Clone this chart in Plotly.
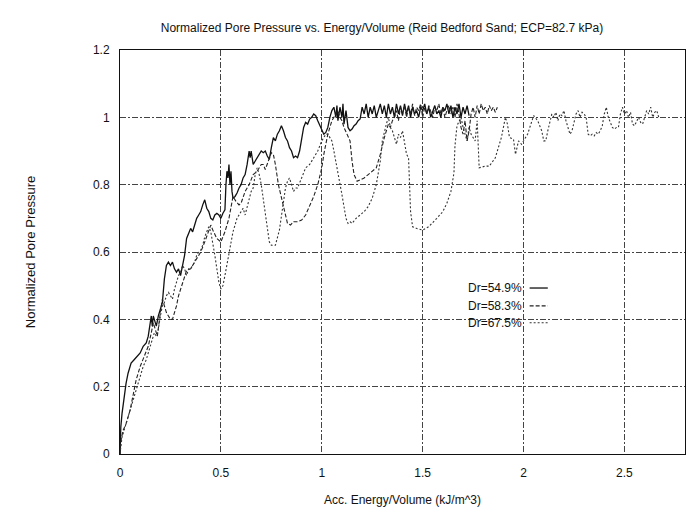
import plotly.graph_objects as go

series_names = ["Dr=54.9%", "Dr=58.3%", "Dr=67.5%"]

# Dr=54.9% (solid)
x_a = [0, 0.004, 0.01, 0.02, 0.03, 0.04, 0.055, 0.07, 0.085, 0.1, 0.115, 0.13, 0.14, 0.15, 0.155, 0.16, 0.165, 0.17, 0.18, 0.19,
       0.2, 0.21, 0.22, 0.23, 0.24, 0.25, 0.26, 0.27, 0.28, 0.29, 0.3, 0.31, 0.32, 0.33, 0.34, 0.35, 0.36, 0.37, 0.38, 0.39,
       0.4, 0.41, 0.42, 0.43, 0.44, 0.45, 0.46, 0.47, 0.48, 0.49, 0.5, 0.51, 0.52,
       0.525, 0.53, 0.535, 0.54, 0.545, 0.55, 0.555, 0.56, 0.57, 0.58, 0.59, 0.6, 0.61, 0.62, 0.63, 0.64, 0.645, 0.65, 0.66, 0.67,
       0.68, 0.69, 0.7, 0.71, 0.72, 0.73, 0.74, 0.75, 0.76, 0.77, 0.78, 0.79, 0.8, 0.81, 0.82, 0.83, 0.84, 0.85, 0.86, 0.87,
       0.88, 0.89, 0.9, 0.91, 0.92, 0.93, 0.94, 0.95, 0.96, 0.97, 0.98, 0.99, 1.0, 1.01, 1.02, 1.03, 1.04, 1.05,
       1.06, 1.07, 1.075, 1.08, 1.09, 1.1, 1.105, 1.11, 1.12, 1.13, 1.14, 1.15, 1.16, 1.17, 1.18, 1.19, 1.2, 1.21, 1.22, 1.23,
       1.24, 1.25, 1.26, 1.27, 1.28, 1.29, 1.3, 1.31, 1.32, 1.33, 1.34, 1.35, 1.36, 1.37, 1.38, 1.39, 1.4, 1.41, 1.42, 1.43,
       1.44, 1.45, 1.46, 1.47, 1.48, 1.49, 1.5, 1.51, 1.52, 1.53, 1.54, 1.55, 1.56, 1.57, 1.58, 1.59, 1.6, 1.61, 1.62, 1.63,
       1.64, 1.65, 1.66, 1.67, 1.68, 1.69, 1.7, 1.71, 1.72, 1.73]
y_a = [0, 0.08, 0.12, 0.17, 0.21, 0.24, 0.27, 0.28, 0.29, 0.30, 0.32, 0.33, 0.35, 0.39, 0.41, 0.38, 0.41, 0.40, 0.38, 0.41,
       0.43, 0.45, 0.52, 0.56, 0.57, 0.56, 0.57, 0.55, 0.54, 0.55, 0.53, 0.56, 0.59, 0.64, 0.655, 0.67, 0.66, 0.68, 0.70, 0.71,
       0.72, 0.74, 0.755, 0.73, 0.72, 0.70, 0.695, 0.71, 0.715, 0.71, 0.70, 0.715, 0.725,
       0.80, 0.84, 0.82, 0.86, 0.80, 0.84, 0.78, 0.76, 0.765, 0.775, 0.79, 0.80, 0.82, 0.83, 0.86, 0.90, 0.88, 0.90, 0.86, 0.87,
       0.88, 0.89, 0.90, 0.895, 0.90, 0.885, 0.875, 0.91, 0.94, 0.93, 0.95, 0.96, 0.975, 0.96, 0.94, 0.93, 0.91, 0.90, 0.88, 0.885,
       0.88, 0.90, 0.93, 0.97, 0.985, 0.98, 0.995, 1.00, 1.01, 1.005, 0.99, 0.975, 0.96, 0.95, 0.955, 0.97, 1.0, 1.02,
       1.03, 1.00, 1.035, 0.99, 1.03, 1.00, 1.04, 0.98, 1.02, 0.97, 0.96, 0.965, 0.975, 0.98, 0.99, 0.995, 1.03, 1.01, 1.04, 1.0,
       1.03, 1.01, 1.035, 1.0, 1.02, 1.04, 1.01, 1.035, 1.0, 1.04, 1.01, 1.03, 1.00, 1.04, 1.01, 1.035, 1.005, 1.04, 1.01, 1.035,
       1.0, 1.03, 1.01, 1.02, 1.0, 1.03, 1.02, 1.04, 1.01, 1.03, 1.0, 1.02, 1.035, 1.01, 1.02, 1.0, 1.03, 1.02, 1.04, 1.01,
       1.035, 1.0, 1.03, 1.01, 1.04, 1.0, 1.03, 1.01, 1.035, 1.005]

# Dr=58.3% (dashed)
x_b = [0, 0.005, 0.015, 0.03, 0.05, 0.065, 0.08, 0.1, 0.12, 0.14, 0.155, 0.165, 0.175, 0.185, 0.2, 0.21, 0.22, 0.23, 0.24,
       0.25, 0.26, 0.27, 0.28, 0.29, 0.3, 0.31, 0.32, 0.33, 0.35, 0.38, 0.4, 0.42, 0.44, 0.45, 0.46, 0.48, 0.5, 0.52, 0.54,
       0.55, 0.56, 0.575, 0.59, 0.6, 0.62, 0.64, 0.66, 0.68, 0.7, 0.71, 0.72, 0.735, 0.75, 0.76, 0.77, 0.785, 0.8, 0.815,
       0.83, 0.845, 0.86, 0.88, 0.9, 0.92, 0.94, 0.96, 0.98, 1.0, 1.01, 1.03, 1.05, 1.07, 1.08, 1.09, 1.1, 1.11, 1.125, 1.14,
       1.15, 1.16, 1.175, 1.19, 1.21, 1.23, 1.25, 1.27, 1.29, 1.31, 1.33, 1.34, 1.35, 1.36,
       1.37, 1.38, 1.39, 1.4, 1.41, 1.42, 1.43, 1.44, 1.45, 1.46, 1.47, 1.48, 1.49, 1.5, 1.51, 1.52, 1.53, 1.54, 1.55, 1.56,
       1.57, 1.58, 1.59, 1.6, 1.61, 1.62, 1.63, 1.64, 1.65, 1.66, 1.67, 1.68, 1.69, 1.7, 1.71, 1.72, 1.73, 1.74, 1.75, 1.76,
       1.77, 1.78, 1.79, 1.8, 1.81, 1.82, 1.83, 1.84, 1.85, 1.86, 1.87]
y_b = [0, 0.04, 0.07, 0.09, 0.13, 0.18, 0.22, 0.26, 0.29, 0.32, 0.36, 0.39, 0.37, 0.35, 0.42, 0.46, 0.44, 0.42, 0.41,
       0.40, 0.40, 0.42, 0.44, 0.47, 0.49, 0.51, 0.53, 0.545, 0.55, 0.58, 0.60, 0.63, 0.665, 0.68, 0.665, 0.64, 0.63, 0.66, 0.70,
       0.73, 0.765, 0.75, 0.74, 0.745, 0.78, 0.80, 0.83, 0.84, 0.86, 0.86, 0.845, 0.87, 0.895, 0.89, 0.86, 0.80, 0.76, 0.72,
       0.685, 0.68, 0.69, 0.69, 0.695, 0.71, 0.735, 0.765, 0.80, 0.85, 0.89, 0.95, 0.99, 1.01, 1.02, 1.0, 0.99, 0.97, 0.95, 0.93,
       0.87, 0.83, 0.81, 0.815, 0.82, 0.83, 0.84, 0.85, 0.89, 0.94, 0.98, 0.97, 0.99, 1.0,
       1.02, 0.99, 1.03, 1.01, 1.035, 1.0, 1.03, 1.01, 1.04, 1.005, 1.03, 1.02, 1.04, 1.0, 1.03, 1.01, 1.035, 1.02, 1.0, 1.03,
       1.02, 1.04, 1.01, 1.03, 1.0, 1.02, 1.035, 1.01, 1.03, 1.0, 1.04, 1.01, 0.97, 0.95, 0.99, 0.93, 0.96, 1.01, 1.03, 1.0,
       1.035, 1.01, 1.04, 1.02, 1.03, 1.01, 1.035, 1.02, 1.03, 1.015, 1.03]

# Dr=67.5% (dotted)
x_c = [0, 0.01, 0.025, 0.04, 0.06, 0.08, 0.1, 0.115, 0.13, 0.145, 0.16, 0.17, 0.18, 0.19, 0.2, 0.21, 0.22, 0.23, 0.24, 0.25,
       0.26, 0.27, 0.28, 0.29, 0.3, 0.31, 0.32, 0.33, 0.34, 0.35, 0.36, 0.37, 0.38, 0.39, 0.4, 0.41, 0.42, 0.43, 0.44, 0.45,
       0.46, 0.47, 0.48, 0.49, 0.5, 0.51, 0.52, 0.53, 0.54, 0.55, 0.56, 0.58, 0.6, 0.61, 0.62, 0.635, 0.65, 0.66, 0.67, 0.68,
       0.69, 0.7, 0.71, 0.72, 0.73, 0.74, 0.75, 0.77, 0.79, 0.8, 0.81, 0.82, 0.83, 0.84, 0.85, 0.86, 0.87, 0.88, 0.9, 0.92,
       0.94, 0.96, 0.98, 1.0, 1.02, 1.03, 1.04, 1.05, 1.06, 1.07, 1.08, 1.09, 1.1, 1.11, 1.12, 1.13, 1.14, 1.15, 1.17, 1.19,
       1.21, 1.23, 1.25, 1.27, 1.28, 1.29, 1.3, 1.31, 1.32, 1.33, 1.34, 1.35, 1.36, 1.37, 1.38, 1.39, 1.4, 1.41, 1.42, 1.43,
       1.435, 1.44, 1.45, 1.47, 1.5, 1.53, 1.57, 1.6, 1.62, 1.64, 1.655, 1.66, 1.67, 1.69, 1.7, 1.72, 1.73, 1.74, 1.76, 1.77,
       1.78, 1.81, 1.83, 1.86, 1.89, 1.91, 1.92, 1.93, 1.95, 1.96, 1.975, 1.99, 2.02, 2.05, 2.07, 2.09, 2.1, 2.11, 2.12, 2.13,
       2.14, 2.15, 2.16, 2.17, 2.18, 2.19, 2.2, 2.21, 2.22, 2.23, 2.24, 2.25, 2.26, 2.27, 2.28, 2.29, 2.3, 2.31, 2.32, 2.33,
       2.34, 2.35, 2.36, 2.37, 2.38, 2.39, 2.4, 2.41, 2.42, 2.43, 2.44, 2.45, 2.46, 2.47, 2.48, 2.49, 2.5, 2.51, 2.52, 2.53,
       2.54, 2.55, 2.56, 2.57, 2.58, 2.59, 2.6, 2.61, 2.62, 2.63, 2.64, 2.65, 2.66, 2.67]
y_c = [0, 0.05, 0.08, 0.11, 0.15, 0.19, 0.23, 0.26, 0.28, 0.31, 0.34, 0.36, 0.35, 0.37, 0.41, 0.44, 0.45, 0.47, 0.48, 0.47,
       0.46, 0.49, 0.51, 0.53, 0.54, 0.56, 0.55, 0.53, 0.55, 0.55, 0.56, 0.57, 0.59, 0.60, 0.605, 0.62, 0.645, 0.66, 0.675, 0.66,
       0.63, 0.59, 0.55, 0.51, 0.49, 0.50, 0.53, 0.56, 0.60, 0.63, 0.66, 0.70, 0.72, 0.73, 0.71, 0.75, 0.78, 0.79, 0.83, 0.85,
       0.83, 0.80, 0.76, 0.72, 0.67, 0.63, 0.62, 0.62, 0.665, 0.71, 0.745, 0.79, 0.81, 0.82, 0.80, 0.78, 0.79, 0.79, 0.82, 0.85,
       0.86, 0.88, 0.90, 0.93, 0.95, 0.95, 0.94, 0.93, 0.90, 0.87, 0.83, 0.80, 0.77, 0.735, 0.70, 0.685, 0.69, 0.685, 0.70, 0.71,
       0.72, 0.735, 0.76, 0.80, 0.83, 0.87, 0.93, 0.96, 0.98, 1.0, 0.97, 0.96, 0.94, 0.92, 0.95, 0.94, 0.96, 0.93, 0.89, 0.88,
       0.80, 0.72, 0.675, 0.67, 0.665, 0.675, 0.70, 0.72, 0.745, 0.78, 0.835, 0.915, 0.975, 1.0, 0.97, 0.93, 0.97, 0.95, 0.93, 0.99,
       0.85, 0.855, 0.855, 0.88, 0.94, 1.0, 0.98, 0.94, 0.935, 0.89, 0.93, 0.92, 0.95, 1.005, 0.99, 0.96, 0.93, 0.93, 0.96, 0.99,
       1.01, 1.0, 1.015, 0.99, 1.01, 1.005, 1.02, 0.99, 0.97, 0.95, 0.96, 0.99, 1.01, 1.02, 1.0, 1.015, 1.01, 1.0, 0.95, 0.945,
       0.95, 0.945, 0.955, 0.95, 0.96, 0.975, 1.01, 1.03, 1.0, 0.985, 0.97, 0.965, 0.97, 0.97, 1.01, 1.03, 1.01, 1.02, 1.0, 1.015,
       0.98, 0.975, 0.99, 1.0, 0.985, 0.98, 1.0, 1.02, 1.01, 1.03, 1.0, 1.015, 1.02, 1.0]

x_tick_vals = [0, 0.5, 1, 1.5, 2, 2.5]
x_tick_text = ["0", "0.5", "1", "1.5", "2", "2.5"]
y_tick_vals = [0, 0.2, 0.4, 0.6, 0.8, 1.0, 1.2]
y_tick_text = ["0", "0.2", "0.4", "0.6", "0.8", "1", "1.2"]

FONT = "Liberation Sans, Arial, sans-serif"
line_styles = [dict(color="#111", width=1.3, dash="solid"),
               dict(color="#222", width=1.1, dash="4px,2px"),
               dict(color="#333", width=1.1, dash="2px,2px")]

fig = go.Figure()
for name, xs, ys, st in zip(series_names, [x_a, x_b, x_c], [y_a, y_b, y_c], line_styles):
    fig.add_trace(go.Scatter(x=xs, y=ys, mode="lines", name=name, line=st, showlegend=False))

# legend drawn as text on the left and line sample on the right (as in the original)
legend_y = [0.493, 0.44, 0.39]
for name, ly, st in zip(series_names, legend_y, line_styles):
    fig.add_annotation(x=2.0, y=ly, xref="x", yref="y", text=name, showarrow=False,
                       xanchor="right", yanchor="middle", font=dict(family=FONT, size=12, color="#111"))
    fig.add_shape(type="line", xref="x", yref="y", x0=2.03, x1=2.12, y0=ly, y1=ly, line=st)

grid = dict(showgrid=True, gridcolor="#444", gridwidth=1, griddash="6px,2px,2px,2px",
            showline=True, linecolor="#111", linewidth=1, mirror=True, zeroline=False, automargin=False,
            ticks="", tickfont=dict(family=FONT, size=12, color="#111"))

# figure sized so that, with the page's 8px body margin, it fills the 696x515 window without scrollbars
fig.update_layout(
    width=680, height=499,
    margin=dict(l=112, r=3, t=42, b=53, autoexpand=False),
    paper_bgcolor="white", plot_bgcolor="white",
    title=dict(text="Normalized Pore Pressure vs. Energy/Volume (Reid Bedford Sand; ECP=82.7 kPa)",
               x=0.55, xanchor="center", y=0.96, yanchor="middle", automargin=False,
               font=dict(family=FONT, size=12, color="#111")),
    xaxis=dict(range=[0, 2.8], tickvals=x_tick_vals, ticktext=x_tick_text, ticklabelstandoff=8,
               title=dict(text="Acc. Energy/Volume (kJ/m^3)", standoff=16, font=dict(family=FONT, size=12, color="#111")),
               **grid),
    yaxis=dict(range=[0, 1.2], tickvals=y_tick_vals, ticktext=y_tick_text, ticklabelstandoff=7,
               title=dict(text="Normalized Pore Pressure", standoff=54, font=dict(family=FONT, size=13, color="#111")),
               **grid),
)

fig.write_html("out.html")
